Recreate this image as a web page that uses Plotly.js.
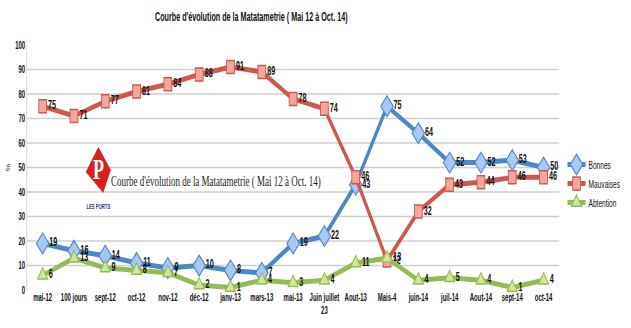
<!DOCTYPE html>
<html><head><meta charset="utf-8">
<script src="https://cdn.plot.ly/plotly-3.0.1.min.js"></script>
<style>html,body{margin:0;padding:0;background:#fff;overflow:hidden;width:631px;height:328px}
#c{width:1052px;height:328px;transform:scale(0.6,1);transform-origin:0 0}</style>
</head><body><div id="c"></div>
<script>
const categories = ["mai-12","100 jours","sept-12","oct-12","nov-12","déc-12","janv-13","mars-13","mai-13","Juin juillet<br>23","Aout-13","Mais-4","juin-14","juil-14","Aout-14","sept-14","oct-14"];
const bonnes    = [19,16,14,11,9,10,8,7,19,22,43,75,64,52,52,53,50];
const mauvaises = [75,71,77,81,84,88,91,89,78,74,46,12,32,43,44,46,46];
const abtention = [6,13,9,8,7,2,1,4,3,4,11,13,4,5,4,1,4];
const seriesNames = ["Bonnes","Mauvaises","Abtention"];
const yTicks = [0,10,20,30,40,50,60,70,80,90,100];
const titleText = "Courbe d'évolution de la Matatametrie ( Mai 12 à Oct. 14)";

const S = 0.6;              // horizontal squeeze of the whole picture
const W = Math.round(631/S);
const L=27, R=579, T=45, B=290;   // plot edges in final picture pixels
const px = x => (x-L)/(R-L);
const py = y => (B-y)/(B-T);
const sans = "Arial, Liberation Sans, sans-serif";

function tr(name, y, color, fill, symbol, size){
  return {type:"scatter", mode:"lines+markers+text", name:name, x:categories, y:y,
    text:y.map(String), textposition:"middle right",
    textfont:{family:sans, size:12, color:"#111", weight:"bold"},
    line:{color:color, width:5},
    marker:{symbol:symbol, size:size, color:fill, line:{color:color, width:1.5}},
    cliponaxis:false};
}
const data = [
  tr(seriesNames[0], bonnes, "#4f86c6", "#a8c8ee", "diamond", 16),
  tr(seriesNames[1], mauvaises, "#d0574f", "#f2a6a0", "square", 13),
  tr(seriesNames[2], abtention, "#94bb55", "#cfe5a0", "triangle-up", 15)
];

const layout = {
  width:W, height:328, margin:{l:Math.round(L/S), r:Math.round((631-R)/S), t:T, b:328-B},
  paper_bgcolor:"#fff", plot_bgcolor:"#fff",
  showlegend:true,
  legend:{x:1.01, xanchor:"left", y:py(150), yanchor:"top", font:{family:sans, size:11, color:"#111"}, tracegroupgap:0, itemwidth:30, bgcolor:"rgba(0,0,0,0)"},
  xaxis:{type:"category", range:[-0.5,16.5], showgrid:false, zeroline:false, showline:false, ticks:"",
    tickfont:{family:sans, size:10, color:"#111", weight:"bold"}, tickangle:0, fixedrange:true},
  yaxis:{range:[0,100], tickvals:yTicks, ticktext:yTicks.map(String), showgrid:true, gridcolor:"#cfcfcf", gridwidth:1.5,
    zeroline:false, showline:true, linecolor:"#cfcfcf", linewidth:1, ticks:"",
    tickfont:{family:sans, size:10, color:"#111", weight:"bold"},
    title:{text:"%", font:{family:sans, size:9, color:"#111"}, standoff:6}},
  shapes:[
    {type:"path", xref:"paper", yref:"paper",
     path:`M ${px(101)} ${py(147)} L ${px(114)} ${py(170)} L ${px(106)} ${py(193)} L ${px(88)} ${py(172)} Z`,
     fillcolor:"#d9201c", line:{width:0}}
  ],
  annotations:[
    {xref:"paper", yref:"paper", x:px(260), y:py(17), text:"<b>"+titleText+"</b>", showarrow:false,
     font:{family:sans, size:12, color:"#111"}, xanchor:"center", yanchor:"middle"},
    {xref:"paper", yref:"paper", x:px(101), y:py(168), text:"<b>P</b>", showarrow:false,
     font:{family:"Liberation Serif, serif", size:30, color:"#fff"}, xanchor:"center", yanchor:"middle"},
    {xref:"paper", yref:"paper", x:px(101), y:py(206), text:"<b>LES PORTS</b>", showarrow:false,
     font:{family:sans, size:7, color:"#1f3a7a"}, xanchor:"center", yanchor:"middle"},
    {xref:"paper", yref:"paper", x:px(113), y:py(181), text:titleText, showarrow:false,
     font:{family:"Liberation Serif, Times New Roman, serif", size:15, color:"#1a1a1a"}, xanchor:"left", yanchor:"middle"}
  ]
};
Plotly.newPlot("c", data, layout, {displayModeBar:false, staticPlot:true});
</script></body></html>
